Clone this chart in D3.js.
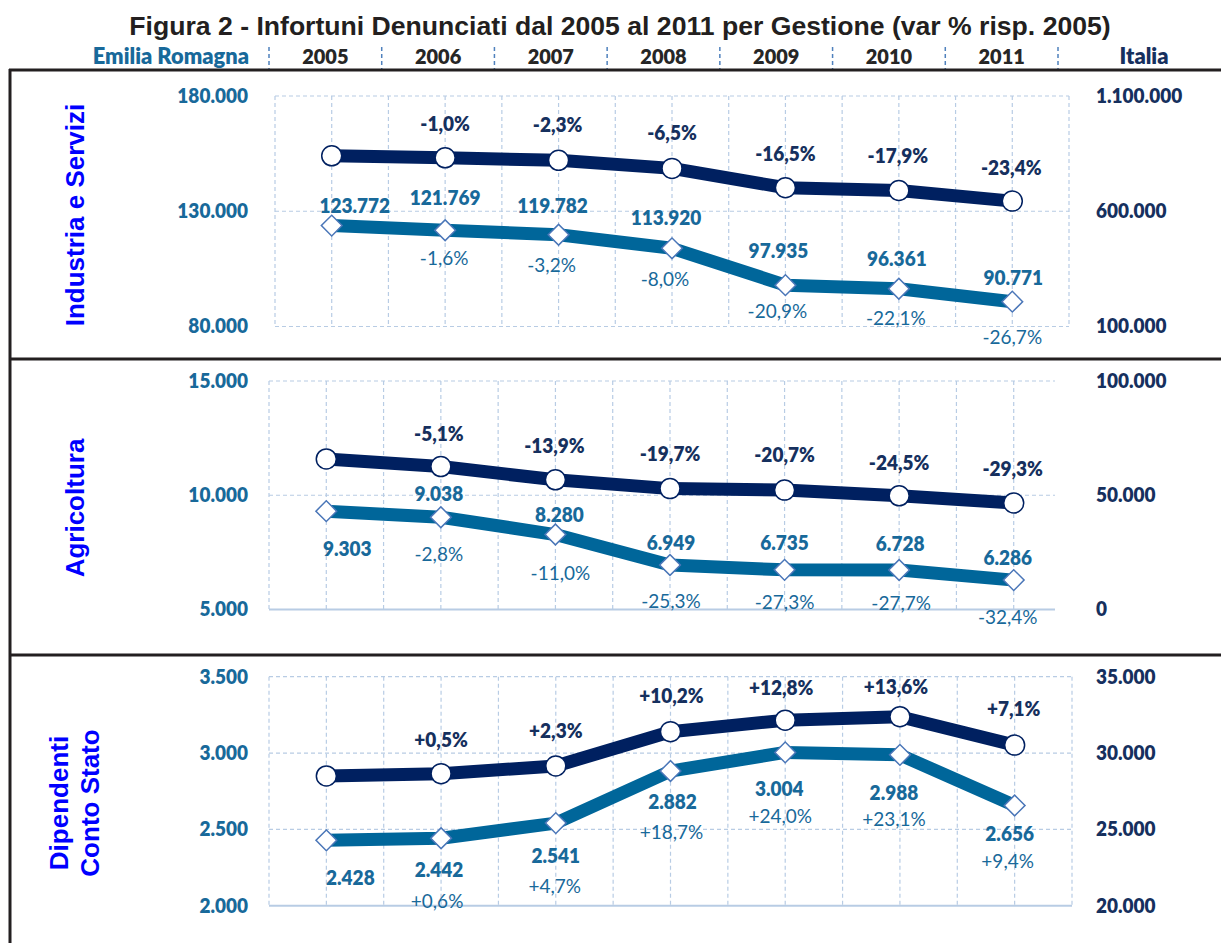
<!DOCTYPE html>
<html>
<head>
<meta charset="utf-8">
<script src="https://cdn.jsdelivr.net/npm/d3@7"></script>
<style>
  body { margin: 0; background: #fff; }
  svg text { font-family: Lato, "Open Sans", sans-serif; }
</style>
</head>
<body>
<svg id="chart" width="1221" height="943"></svg>
<script>
var years = ['2005', '2006', '2007', '2008', '2009', '2010', '2011'];
var titleText = 'Figura 2 - Infortuni Denunciati dal 2005 al 2011 per Gestione (var % risp. 2005)';

// Industria e Servizi
var industriaER = [123772, 121769, 119782, 113920, 97935, 96361, 90771];
var industriaERVar = [null, -1.6, -3.2, -8.0, -20.9, -22.1, -26.7];
var industriaIT = [840500, 832000, 821000, 786000, 702000, 690000, 644000];
var industriaITVar = [null, -1.0, -2.3, -6.5, -16.5, -17.9, -23.4];
var industriaERTicks = [80000, 130000, 180000];
var industriaITTicks = [100000, 600000, 1100000];

// Agricoltura
var agricolturaER = [9303, 9038, 8280, 6949, 6735, 6728, 6286];
var agricolturaERVar = [null, -2.8, -11.0, -25.3, -27.3, -27.7, -32.4];
var agricolturaIT = [65900, 62550, 56750, 52900, 52250, 49750, 46600];
var agricolturaITVar = [null, -5.1, -13.9, -19.7, -20.7, -24.5, -29.3];
var agricolturaERTicks = [5000, 10000, 15000];
var agricolturaITTicks = [0, 50000, 100000];

// Dipendenti Conto Stato
var statoER = [2428, 2442, 2541, 2882, 3004, 2988, 2656];
var statoERVar = [null, 0.6, 4.7, 18.7, 24.0, 23.1, 9.4];
var statoIT = [28500, 28650, 29150, 31400, 32150, 32380, 30520];
var statoITVar = [null, 0.5, 2.3, 10.2, 12.8, 13.6, 7.1];
var statoERTicks = [2000, 2500, 3000, 3500];
var statoITTicks = [20000, 25000, 30000, 35000];

var navy = '#002060';
var teal = '#00669a';
var tealText = '#18699a';
var navyText = '#16305e';
var gridColor = '#b8cce4';
var labelSize = '20px';
var squeeze = 'scale(0.95,1)';

var itLocale = d3.formatLocale({decimal: ',', thousands: '.', grouping: [3], currency: ['€', ''], minus: '-'});
var fmtNum = itLocale.format(',d');
var fmtSigned = itLocale.format('+.1f');
function fmtVar(v) { return fmtSigned(v) + '%'; }

// label nudges (px) relative to each point, as placed in the original
var panels = [
  {
    name: ['Industria e Servizi'], er: industriaER, erVar: industriaERVar, it: industriaIT, itVar: industriaITVar,
    erTicks: industriaERTicks, itTicks: industriaITTicks,
    top: 96, bottom: 326.5, left: 275, right: 1069, gridRight: 1069, solidBottom: false, nameY: 215,
    itVarOff: [null, [0, -34], [-1, -35], [0, -35], [0, -34], [-1, -35], [-1, -33]],
    erValOff: [[23, -20], [0, -32], [-6, -29], [-6, -30], [-7, -34], [-2, -30], [1, -24]],
    erVarOff: [null, [-1, 28], [-7, 30], [-7, 31], [-8, 26], [-3, 29], [0, 35]]
  },
  {
    name: ['Agricoltura'], er: agricolturaER, erVar: agricolturaERVar, it: agricolturaIT, itVar: agricolturaITVar,
    erTicks: agricolturaERTicks, itTicks: agricolturaITTicks,
    top: 381, bottom: 609.5, left: 269, right: 1071, gridRight: 1055, solidBottom: true, nameY: 508,
    itVarOff: [null, [-2, -33], [-1, -34], [0, -35], [0, -35], [0, -33], [-1, -34]],
    erValOff: [[21, 38], [-2, -23], [4, -20], [1, -22], [0, -27], [1, -26], [-6, -22]],
    erVarOff: [null, [-2, 37], [5, 38], [1, 36], [0, 32], [2, 33], [-6, 37]]
  },
  {
    name: ['Dipendenti', 'Conto Stato'], er: statoER, erVar: statoERVar, it: statoIT, itVar: statoITVar,
    erTicks: statoERTicks, itTicks: statoITTicks,
    top: 676.7, bottom: 905.7, left: 269, right: 1072, gridRight: 1072, solidBottom: true, nameY: 803,
    itVarOff: [null, [0, -34], [0, -35], [1, -36], [-4, -32], [-4, -30], [-1, -36]],
    erValOff: [[24, 38], [-2, 32], [0, 33], [2, 31], [-6, 37], [-6, 38], [-5, 28]],
    erVarOff: [null, [-4, 63], [-1, 63], [1, 61], [-5, 64], [-6, 64], [-7, 55]]
  }
];

var svg = d3.select('#chart');

// title
svg.append('text')
  .attr('x', 620)
  .attr('y', 35)
  .attr('text-anchor', 'middle')
  .style('font-family', '"Liberation Sans", Arial, sans-serif')
  .style('font-weight', 'bold')
  .style('font-size', '26.6px')
  .style('fill', '#231f20')
  .text(titleText);

// header row
var headerX = d3.scaleBand().domain(years).range([269, 1058]);
var header = svg.append('g');
var seps = years.map(function(y) { return headerX(y); }).concat([headerX.range()[1]]);
header.selectAll('line.sep')
  .data(seps)
  .enter().append('line')
  .attr('class', 'sep')
  .attr('x1', d => d).attr('x2', d => d)
  .attr('y1', 47).attr('y2', 69)
  .style('stroke', '#4f81bd')
  .style('stroke-width', 1.5)
  .style('stroke-dasharray', '4,3');

function headText(x, anchor, color, size, text) {
  header.append('text')
    .attr('transform', 'translate(' + x + ',64) ' + squeeze)
    .attr('text-anchor', anchor)
    .style('font-weight', 800).style('font-size', size).style('fill', color)
    .text(text);
}
years.forEach(function(y) { headText(headerX(y) + headerX.bandwidth() / 2, 'middle', '#262626', '21px', y); });
headText(249, 'end', tealText, '23px', 'Emilia Romagna');
headText(1144, 'middle', navyText, '23px', 'Italia');

// frame
var frame = svg.append('g').style('stroke', '#231f20').style('stroke-width', 3).style('fill', 'none');
frame.append('line').attr('x1', 10).attr('x2', 10).attr('y1', 69).attr('y2', 943);
[70, 359, 655].forEach(function(y) {
  frame.append('line').attr('x1', 9).attr('x2', 1221).attr('y1', y).attr('y2', y);
});

var diamond = d3.symbol().type(d3.symbolSquare).size(215);

panels.forEach(function(p) {
  var g = svg.append('g');
  var x = d3.scalePoint().domain(years).range([p.left, p.right]).padding(0.5);
  var yL = d3.scaleLinear().domain(d3.extent(p.erTicks)).range([p.bottom, p.top]);
  var yR = d3.scaleLinear().domain(d3.extent(p.itTicks)).range([p.bottom, p.top]);
  var half = x.step() / 2;

  // grid
  var vx = d3.range(0, years.length * 2 + 1).map(k => p.left + k * half).filter(v => v <= p.gridRight + 0.5);
  g.selectAll('line.vgrid')
    .data(vx)
    .enter().append('line')
    .attr('x1', d => d).attr('x2', d => d)
    .attr('y1', p.top).attr('y2', p.bottom)
    .style('stroke', gridColor).style('stroke-width', 1.2).style('stroke-dasharray', '4,3');
  g.selectAll('line.hgrid')
    .data(p.erTicks)
    .enter().append('line')
    .attr('x1', p.left).attr('x2', p.gridRight)
    .attr('y1', d => yL(d)).attr('y2', d => yL(d))
    .style('stroke', gridColor)
    .style('stroke-width', (d, i) => (i === 0 && p.solidBottom) ? 2 : 1.2)
    .style('stroke-dasharray', (d, i) => (i === 0 && p.solidBottom) ? null : '4,3');

  // axes
  var left = g.append('g')
    .attr('transform', 'translate(248,0)')
    .call(d3.axisLeft(yL).tickValues(p.erTicks).tickFormat(fmtNum).tickSize(0).tickPadding(0));
  left.select('.domain').remove();
  left.attr('font-family', null).attr('font-size', null).style('color', tealText);
  left.selectAll('text').attr('transform', squeeze).style('font-weight', 800).style('font-size', labelSize);

  var right = g.append('g')
    .attr('transform', 'translate(1096,0)')
    .call(d3.axisRight(yR).tickValues(p.itTicks).tickFormat(fmtNum).tickSize(0).tickPadding(0));
  right.select('.domain').remove();
  right.attr('font-family', null).attr('font-size', null).style('color', navyText);
  right.selectAll('text').attr('transform', squeeze).style('font-weight', 800).style('font-size', labelSize);

  // lines
  var lineR = d3.line().x((d, i) => x(years[i])).y(d => yR(d));
  var lineL = d3.line().x((d, i) => x(years[i])).y(d => yL(d));
  g.append('path').attr('d', lineR(p.it))
    .style('fill', 'none').style('stroke', navy).style('stroke-width', 13).style('stroke-linejoin', 'round');
  g.append('path').attr('d', lineL(p.er))
    .style('fill', 'none').style('stroke', teal).style('stroke-width', 13).style('stroke-linejoin', 'round');

  // markers
  g.selectAll('circle.it')
    .data(p.it)
    .enter().append('circle')
    .attr('cx', (d, i) => x(years[i]))
    .attr('cy', d => yR(d))
    .attr('r', 10)
    .style('fill', '#fff').style('stroke', navy).style('stroke-width', 1.5);
  g.selectAll('path.er')
    .data(p.er)
    .enter().append('path')
    .attr('d', diamond)
    .attr('transform', (d, i) => 'translate(' + x(years[i]) + ',' + yL(d) + ') rotate(45)')
    .style('fill', '#fff').style('stroke', '#4a76b8').style('stroke-width', 1.5);

  // labels
  function label(value, i, off, yScale, text, color, weight) {
    g.append('text')
      .attr('transform', 'translate(' + (x(years[i]) + off[0]) + ',' + (yScale(value) + off[1]) + ') ' + squeeze)
      .attr('dy', '0.35em')
      .attr('text-anchor', 'middle')
      .style('font-size', labelSize)
      .style('font-weight', weight)
      .style('fill', color)
      .text(text);
  }
  p.it.forEach(function(v, i) {
    if (p.itVar[i] !== null) label(v, i, p.itVarOff[i], yR, fmtVar(p.itVar[i]), navyText, 800);
  });
  p.er.forEach(function(v, i) {
    label(v, i, p.erValOff[i], yL, fmtNum(v), tealText, 800);
    if (p.erVar[i] !== null) label(v, i, p.erVarOff[i], yL, fmtVar(p.erVar[i]), tealText, 400);
  });

  // panel name
  var nameG = g.append('text')
    .attr('transform', 'translate(' + (p.name.length === 1 ? 84 : 68) + ',' + p.nameY + ') rotate(-90)')
    .attr('text-anchor', 'middle')
    .style('font-family', '"Liberation Sans", Arial, sans-serif')
    .style('font-weight', 'bold')
    .style('font-size', '26px')
    .style('fill', '#0000ff');
  p.name.forEach(function(t, i) {
    nameG.append('tspan').attr('x', 0).attr('y', i * 31).text(t);
  });
});
</script>
</body>
</html>
